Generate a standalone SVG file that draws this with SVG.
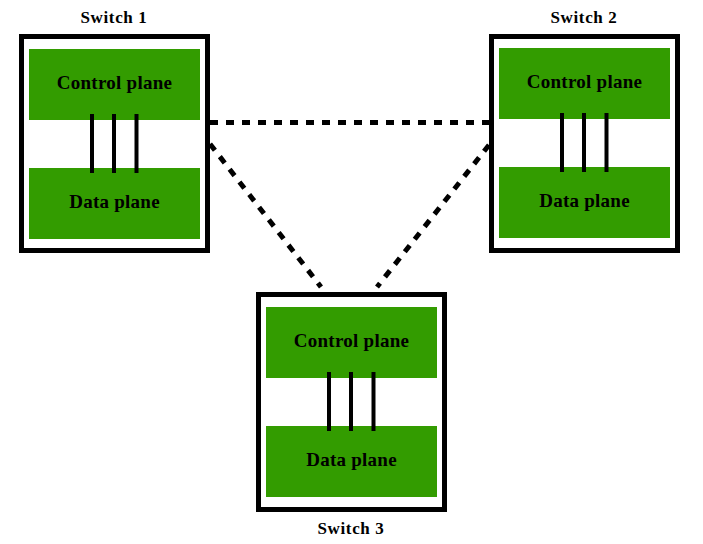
<svg xmlns="http://www.w3.org/2000/svg" width="703" height="544" viewBox="0 0 703 544">
<style>
.box{fill:none;stroke:#000;stroke-width:5}
.plane{fill:#339c00}
.bar{stroke:#000;stroke-width:4}
.lbl{font-family:"Liberation Serif","Times New Roman",serif;font-weight:bold;font-size:19px;fill:#000;text-anchor:middle;letter-spacing:0.25px}
.title{font-family:"Liberation Serif","Times New Roman",serif;font-weight:bold;font-size:17px;fill:#000;text-anchor:middle;letter-spacing:0.65px}
.link{fill:none;stroke:#000;stroke-width:5;stroke-dasharray:8 8}
</style>
<rect width="703" height="544" fill="#fff"/>
<g id="connectors">
<line class="link" x1="210" y1="122.5" x2="489" y2="122.5"/>
<line class="link" x1="210" y1="144" x2="321" y2="287"/>
<line class="link" x1="489" y1="145" x2="377" y2="287"/>
</g>
<g id="switch1">
<text class="title" x="114" y="23">Switch 1</text>
<rect class="box" x="21.5" y="36.5" width="186" height="214"/>
<rect class="plane" x="29" y="49" width="171" height="71"/>
<rect class="plane" x="29" y="168" width="171" height="71"/>
<line class="bar" x1="92" y1="114" x2="92" y2="173"/>
<line class="bar" x1="114" y1="114" x2="114" y2="173"/>
<line class="bar" x1="136.5" y1="114" x2="136.5" y2="173"/>
<text class="lbl" x="114.5" y="89">Control plane</text>
<text class="lbl" x="114.5" y="208">Data plane</text>
</g>
<g id="switch2">
<text class="title" x="584" y="23">Switch 2</text>
<rect class="box" x="491.5" y="36.5" width="186" height="214"/>
<rect class="plane" x="499" y="48" width="171" height="71"/>
<rect class="plane" x="499" y="167" width="171" height="71"/>
<line class="bar" x1="562" y1="113" x2="562" y2="172"/>
<line class="bar" x1="584" y1="113" x2="584" y2="172"/>
<line class="bar" x1="606.5" y1="113" x2="606.5" y2="172"/>
<text class="lbl" x="584.5" y="88">Control plane</text>
<text class="lbl" x="584.5" y="207">Data plane</text>
</g>
<g id="switch3">
<rect class="box" x="258.5" y="294.5" width="186" height="215"/>
<rect class="plane" x="266" y="307" width="171" height="71"/>
<rect class="plane" x="266" y="426" width="171" height="71"/>
<line class="bar" x1="329" y1="372" x2="329" y2="431"/>
<line class="bar" x1="351" y1="372" x2="351" y2="431"/>
<line class="bar" x1="373.5" y1="372" x2="373.5" y2="431"/>
<text class="lbl" x="351.5" y="347">Control plane</text>
<text class="lbl" x="351.5" y="466">Data plane</text>
<text class="title" x="351" y="534">Switch 3</text>
</g>
</svg>
